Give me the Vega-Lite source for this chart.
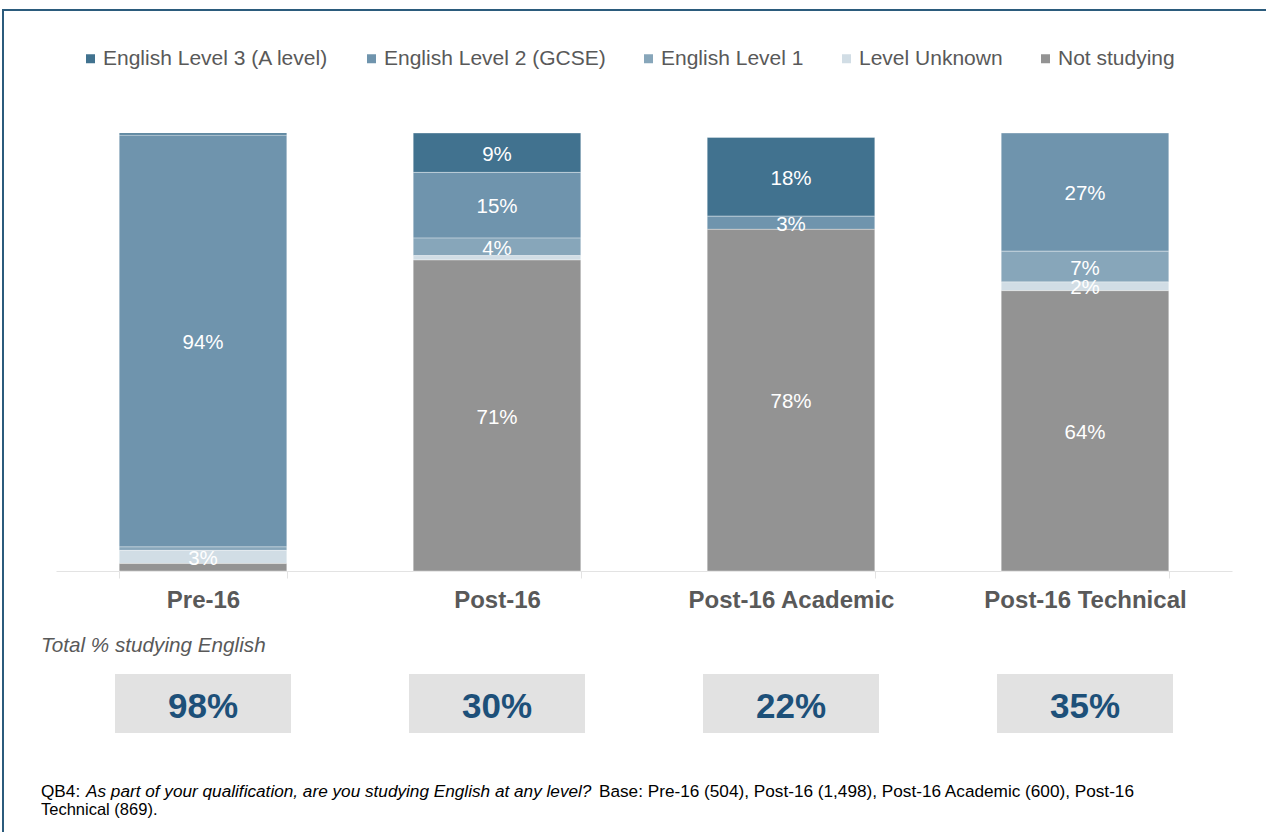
{
  "$schema": "https://vega.github.io/schema/vega-lite/v6.json",
  "width": 1266,
  "height": 825,
  "autosize": {"type": "none"},
  "padding": {"left": 3, "top": 10, "right": -3, "bottom": -3},
  "background": "#ffffff",
  "config": {
    "font": "Liberation Sans",
    "view": {"stroke": "#2b5b7c", "strokeWidth": 2},
    "text": {"font": "Liberation Sans"}
  },
  "datasets": {
    "segments": [
      {"category": "Pre-16", "series": "English Level 3 (A level)", "value": 0.5},
      {"category": "Pre-16", "series": "English Level 2 (GCSE)", "value": 94},
      {"category": "Pre-16", "series": "English Level 1", "value": 0.8},
      {"category": "Pre-16", "series": "Level Unknown", "value": 3},
      {"category": "Pre-16", "series": "Not studying", "value": 1.7},
      {"category": "Post-16", "series": "English Level 3 (A level)", "value": 9},
      {"category": "Post-16", "series": "English Level 2 (GCSE)", "value": 15},
      {"category": "Post-16", "series": "English Level 1", "value": 4},
      {"category": "Post-16", "series": "Level Unknown", "value": 1},
      {"category": "Post-16", "series": "Not studying", "value": 71},
      {"category": "Post-16 Academic", "series": "English Level 3 (A level)", "value": 18},
      {"category": "Post-16 Academic", "series": "English Level 2 (GCSE)", "value": 3},
      {"category": "Post-16 Academic", "series": "Not studying", "value": 78},
      {"category": "Post-16 Technical", "series": "English Level 2 (GCSE)", "value": 27},
      {"category": "Post-16 Technical", "series": "English Level 1", "value": 7},
      {"category": "Post-16 Technical", "series": "Level Unknown", "value": 2},
      {"category": "Post-16 Technical", "series": "Not studying", "value": 64}
    ],
    "totals": [
      {"category": "Pre-16", "total": 98},
      {"category": "Post-16", "total": 30},
      {"category": "Post-16 Academic", "total": 22},
      {"category": "Post-16 Technical", "total": 35}
    ]
  },
  "layer": [
    {
      "layer": [
        {
          "data": {"name": "segments"},
          "transform": [
            {"calculate": "indexof(['Not studying','Level Unknown','English Level 1','English Level 2 (GCSE)','English Level 3 (A level)'], datum.series)", "as": "stackOrder"}
          ],
          "mark": {"type": "bar", "stroke": "#ffffff", "strokeWidth": 0.6, "strokeOpacity": 0.6},
          "encoding": {
            "x": {
              "field": "category", "type": "nominal",
              "scale": {"domain": ["Pre-16", "Post-16", "Post-16 Academic", "Post-16 Technical"], "range": [53, 1229], "paddingInner": 0.43, "paddingOuter": 0.215},
              "axis": {"title": null, "labelAngle": 0, "domainColor": "#e3e3e3", "tickColor": "#e3e3e3", "tickSize": 7, "tickBand": "extent", "labelFontSize": 24, "labelFontWeight": "bold", "labelColor": "#595959", "labelPadding": 10, "labelLimit": 400, "offset": -264, "grid": false}
            },
            "y": {
              "field": "value", "type": "quantitative", "stack": "zero",
              "scale": {"domain": [0, 100], "range": [561, 123], "nice": false, "zero": false},
              "axis": null
            },
            "color": {
              "field": "series", "type": "nominal",
              "scale": {
                "domain": ["English Level 3 (A level)", "English Level 2 (GCSE)", "English Level 1", "Level Unknown", "Not studying"],
                "range": ["#41728f", "#6f94ad", "#87a6ba", "#d1dde5", "#939393"]
              },
              "legend": {"orient": "none", "legendX": 77, "legendY": 38, "direction": "horizontal", "title": null, "symbolType": "square", "symbolSize": 81, "symbolStrokeWidth": 0, "labelFontSize": 21, "labelColor": "#595959", "labelOffset": 2, "columnPadding": 32, "labelLimit": 400}
            },
            "order": {"field": "stackOrder", "type": "quantitative", "sort": "ascending"}
          }
        },
        {
          "data": {"name": "segments"},
          "transform": [
            {"calculate": "indexof(['Not studying','Level Unknown','English Level 1','English Level 2 (GCSE)','English Level 3 (A level)'], datum.series)", "as": "stackOrder"},
            {"stack": "value", "groupby": ["category"], "sort": [{"field": "stackOrder", "order": "ascending"}], "as": ["y0", "y1"]},
            {"calculate": "(datum.y0 + datum.y1) / 2", "as": "mid"},
            {"filter": "datum.value >= 2"},
            {"calculate": "format(datum.value, '.0f') + '%'", "as": "label"}
          ],
          "mark": {"type": "text", "color": "#ffffff", "fontSize": 20.5, "align": "center", "baseline": "middle", "dy": 2},
          "encoding": {
            "x": {"field": "category", "type": "nominal"},
            "y": {"field": "mid", "type": "quantitative"},
            "text": {"field": "label", "type": "nominal"}
          }
        },
        {
          "data": {"name": "totals"},
          "mark": {"type": "bar", "color": "#e2e2e2", "width": {"band": 1.05}},
          "encoding": {
            "x": {"field": "category", "type": "nominal"},
            "y": {"datum": -23.52},
            "y2": {"datum": -36.99}
          }
        },
        {
          "data": {"name": "totals"},
          "transform": [{"calculate": "datum.total + '%'", "as": "label"}],
          "mark": {"type": "text", "color": "#1d5079", "fontSize": 35, "fontWeight": "bold", "align": "center", "baseline": "middle", "dy": 1},
          "encoding": {
            "x": {"field": "category", "type": "nominal"},
            "y": {"datum": -30.82},
            "text": {"field": "label", "type": "nominal"}
          }
        }
      ]
    },
    {
      "data": {"values": [{}]},
      "mark": {"type": "text", "text": "Total % studying English", "align": "left", "baseline": "middle", "fontStyle": "italic", "fontSize": 20.7, "color": "#595959"},
      "encoding": {
        "x": {"datum": 38, "type": "quantitative", "scale": {"domain": [0, 1266]}, "axis": null},
        "y": {"datum": -17.12}
      }
    },
    {
      "data": {"values": [{}]},
      "mark": {"type": "text", "text": "QB4:", "align": "left", "baseline": "middle", "fontSize": 17.2, "color": "#000000"},
      "encoding": {
        "x": {"datum": 38, "type": "quantitative", "scale": {"domain": [0, 1266]}, "axis": null},
        "y": {"datum": -50.4}
      }
    },
    {
      "data": {"values": [{}]},
      "mark": {"type": "text", "text": "As part of your qualification, are you studying English at any level?", "align": "left", "baseline": "middle", "fontStyle": "italic", "fontSize": 17.2, "color": "#000000"},
      "encoding": {
        "x": {"datum": 83, "type": "quantitative", "scale": {"domain": [0, 1266]}, "axis": null},
        "y": {"datum": -50.4}
      }
    },
    {
      "data": {"values": [{}]},
      "mark": {"type": "text", "text": "Base: Pre-16 (504), Post-16 (1,498), Post-16 Academic (600), Post-16", "align": "left", "baseline": "middle", "fontSize": 17.2, "color": "#000000"},
      "encoding": {
        "x": {"datum": 596, "type": "quantitative", "scale": {"domain": [0, 1266]}, "axis": null},
        "y": {"datum": -50.4}
      }
    },
    {
      "data": {"values": [{}]},
      "mark": {"type": "text", "text": "Technical (869).", "align": "left", "baseline": "middle", "fontSize": 16.5, "color": "#000000"},
      "encoding": {
        "x": {"datum": 38, "type": "quantitative", "scale": {"domain": [0, 1266]}, "axis": null},
        "y": {"datum": -54.5}
      }
    }
  ],
  "resolve": {"scale": {"x": "independent"}}
}
